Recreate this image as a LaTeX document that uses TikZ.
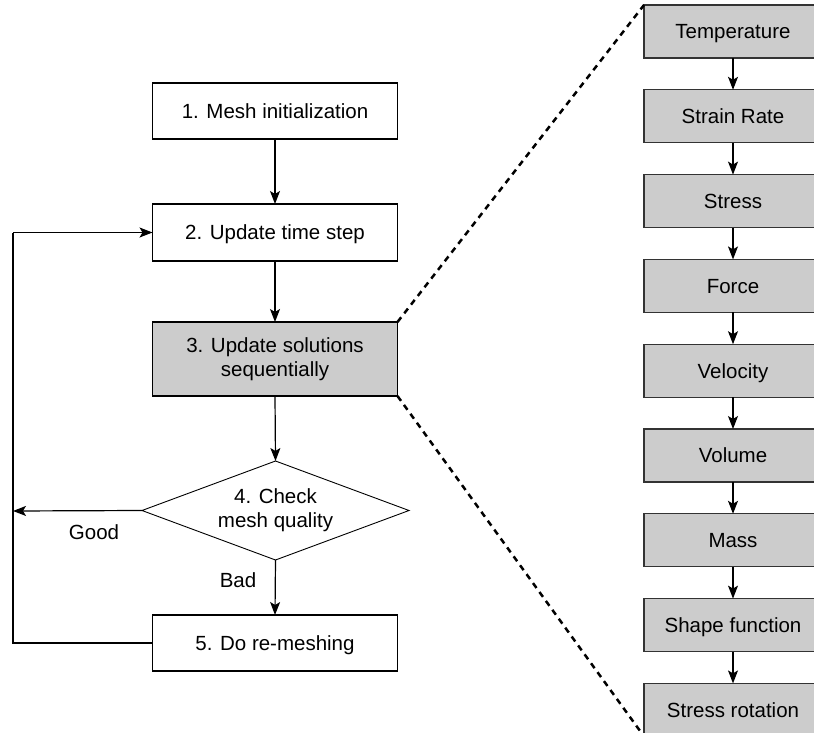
\documentclass[tikz,border=0pt]{standalone}
\usepackage{fontspec}
\setmainfont{Liberation Sans}
\usetikzlibrary{shapes.geometric,arrows.meta}
\begin{document}
\begin{tikzpicture}[x=1pt,y=-1pt,
  font=\fontsize{20.5}{24}\selectfont,
  one/.style={text height=14.7pt,text depth=0pt},
  box/.style={draw=black,line width=1.1pt,inner sep=0pt,outer sep=0pt,align=center,minimum width=245pt},
  gbox/.style={one,draw=black!80,line width=1.1pt,fill=black!20,inner sep=0pt,outer sep=0pt,minimum width=178pt,minimum height=53pt},
  dia/.style={draw=black,line width=0.9pt,diamond,aspect=2.7,inner sep=0pt,outer sep=0pt,align=center,minimum width=267pt,minimum height=99pt},
  arr/.style={line width=1.2pt,-{Stealth[length=13pt,width=10pt,inset=3pt]}},
  zoomline/.style={line width=2.5pt,dash pattern=on 6pt off 5pt}]
\useasboundingbox (0,0) rectangle (814,733);
\begin{scope}
\clip (0,0) rectangle (814,733);
% left column
\node[box,one,minimum height=56pt] (b1) at (275,111) {1. Mesh initialization};
\node[box,one,minimum height=57pt] (b2) at (275,232.5) {2. Update time step};
\node[box,minimum height=74pt,fill=black!20] (b3) at (275,359) {\raisebox{-2pt}{\parbox{240pt}{\centering 3. Update solutions\\sequentially}}};
\node[dia] (d4) at (275.5,510.5) {4. Check\\mesh quality};
\node[box,one,minimum height=56pt] (b5) at (275,643) {5. Do re-meshing};
\coordinate (lx) at (13,511);
\coordinate (lb) at (13,643);
\coordinate (lt) at (13,232.5);
\draw[arr] (b1) -- (b2);
\draw[arr] (b2) -- (b3);
\draw[arr] (b3.south) -- (d4.north);
\draw[arr] (d4.south) -- (b5.north);
\draw[arr] (d4.west) -- (lx);
\draw[line width=1.1pt] (b5.west) -- (lb) -- (lt);
\draw[arr] (lt) -- (b2.west);
\node[one] (good) at (94,532) {Good};
\node[one] (bad) at (238,580) {Bad};
% right column
\node[gbox] (r1) at (733,31.5) {Temperature};
\node[gbox] (r2) at (733,116.3) {Strain Rate};
\node[gbox] (r3) at (733,201.1) {Stress};
\node[gbox] (r4) at (733,285.9) {Force};
\node[gbox] (r5) at (733,370.7) {Velocity};
\node[gbox] (r6) at (733,455.5) {Volume};
\node[gbox] (r7) at (733,540.3) {Mass};
\node[gbox] (r8) at (733,625.1) {Shape function};
\node[gbox] (r9) at (733,709.9) {Stress rotation};
\foreach \a/\b in {r1/r2,r2/r3,r3/r4,r4/r5,r5/r6,r6/r7,r7/r8,r8/r9}
  \draw[arr] (\a) -- (\b);
\draw[zoomline] (b3.north east) -- (r1.north west);
\draw[zoomline] (b3.south east) -- (r9.south west);
\end{scope}
\end{tikzpicture}
\end{document}
